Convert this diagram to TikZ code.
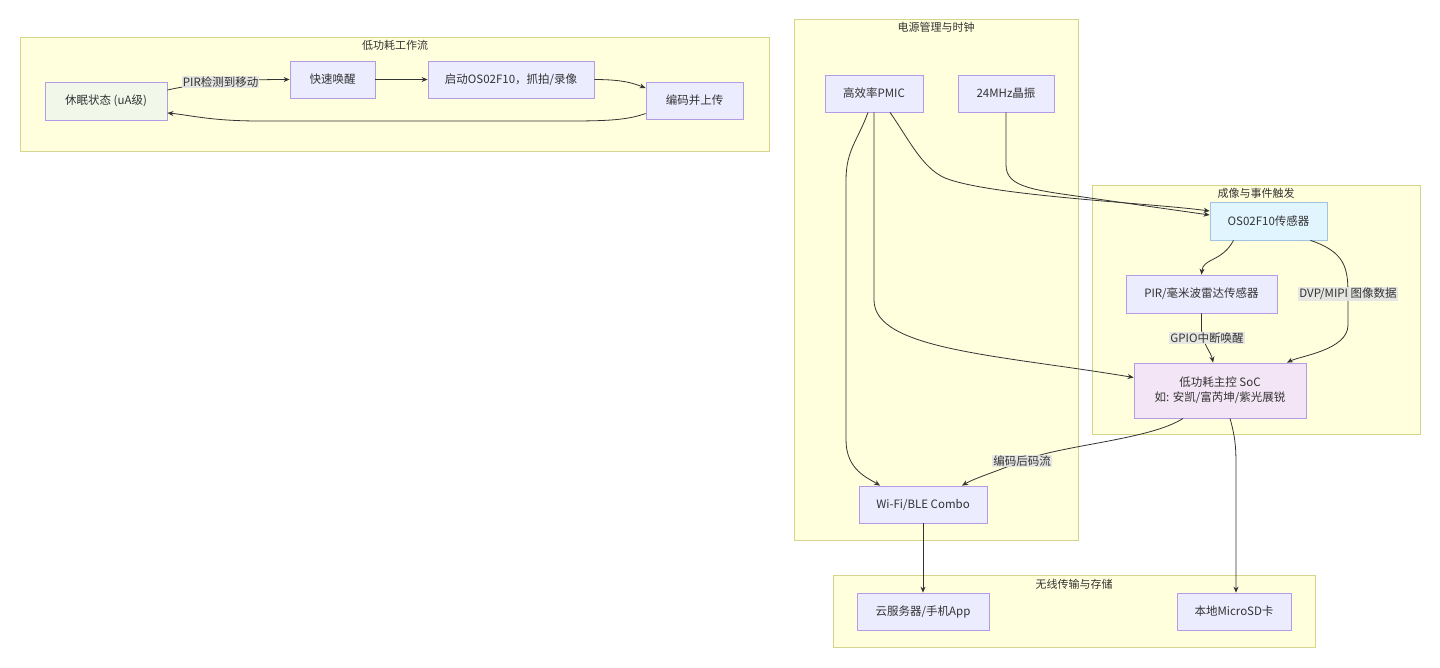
\documentclass[tikz,border=0pt]{standalone}
\usepackage{fontspec}
\setmainfont{Noto Sans CJK SC}
\usetikzlibrary{arrows.meta}
\definecolor{clfill}{HTML}{FFFFDE}
\definecolor{cldraw}{HTML}{D4D48A}
\definecolor{ndfill}{HTML}{ECECFF}
\definecolor{nddraw}{HTML}{9370DB}
\definecolor{edge}{HTML}{333333}
\definecolor{lblbg}{HTML}{E4E4E4}
\definecolor{txt}{HTML}{333333}
\definecolor{greenfill}{HTML}{F1F8E9}
\definecolor{bluefill}{HTML}{E1F5FE}
\definecolor{bluedraw}{HTML}{9FC3E0}
\definecolor{pinkfill}{HTML}{F3E5F5}
\tikzset{
  cluster/.style={draw=cldraw, fill=clfill, line width=0.8pt},
  cltitle/.style={text=txt, font=\fontsize{11}{13}\selectfont, inner sep=0pt},
  box/.style={draw=nddraw!70, fill=ndfill, line width=0.8pt, rectangle, text=txt,
    font=\fontsize{11.5}{15}\selectfont, align=center, inner sep=0pt},
  arr/.style={draw=edge, line width=0.8pt, -{Stealth[length=6pt,width=5pt]}},
  lbl/.style={fill=lblbg, fill opacity=0.9, text opacity=1, text=txt,
    font=\fontsize{11.5}{13}\selectfont, inner sep=1pt}
}
\begin{document}
\begin{tikzpicture}[x=1pt,y=-1pt]
\useasboundingbox (0,0) rectangle (1440,667);
% clusters
\draw[cluster] (20,37) rectangle (769,151);
\node[cltitle] (t1) at (395,45) {低功耗工作流};
\draw[cluster] (794,19) rectangle (1078,540);
\node[cltitle] (t2) at (936,27) {电源管理与时钟};
\draw[cluster] (1092,185) rectangle (1420,434);
\node[cltitle] (t3) at (1256,193) {成像与事件触发};
\draw[cluster] (833,575) rectangle (1315,647);
\node[cltitle] (t4) at (1074,584) {无线传输与存储};
% workflow nodes
\node[box, fill=greenfill, minimum width=122pt, minimum height=38pt] (sleep) at (106,101) {休眠状态 (uA级)};
\node[box, minimum width=85pt, minimum height=37pt] (wake) at (332.5,79.5) {快速唤醒};
\node[box, minimum width=166pt, minimum height=37pt] (start) at (511,79.5) {启动OS02F10，抓拍/录像};
\node[box, minimum width=97pt, minimum height=37pt] (enc) at (694.5,100.5) {编码并上传};
% power
\node[box, minimum width=98pt, minimum height=37pt] (pmic) at (874,93.5) {高效率PMIC};
\node[box, minimum width=96pt, minimum height=37pt] (xtal) at (1006,93.5) {24MHz晶振};
\node[box, minimum width=128pt, minimum height=37pt] (wifi) at (923,504.5) {Wi-Fi/BLE Combo};
% imaging
\node[box, fill=bluefill, draw=bluedraw, minimum width=117pt, minimum height=38pt] (os) at (1268.5,221) {OS02F10传感器};
\node[box, minimum width=151pt, minimum height=38pt] (pir) at (1201.5,294) {PIR/毫米波雷达传感器};
\node[box, fill=pinkfill, minimum width=172pt, minimum height=55pt] (soc) at (1220,390.5) {低功耗主控 SoC\\如: 安凯/富芮坤/紫光展锐};
% storage
\node[box, minimum width=132pt, minimum height=37pt] (cloud) at (923,611.5) {云服务器/手机App};
\node[box, minimum width=114pt, minimum height=37pt] (sd) at (1234,611.5) {本地MicroSD卡};
% workflow edges
\draw[arr] ([yshift=11pt]sleep.east) .. controls (200,83) and (230,79.5) .. (wake.west)
  node[lbl, pos=0.52] (l1) {PIR检测到移动};
\draw[arr] (wake.east) -- (start.west);
\draw[arr] (start.east) .. controls (625,79.5) and (635,84) .. ([yshift=12.5pt]enc.west);
\draw[arr] ([yshift=-13pt]enc.west) .. controls (625,121) and (600,121) .. (560,121)
  -- (260,121) .. controls (210,121) and (190,115) .. ([yshift=-12pt]sleep.east);
% power edges
\draw[arr] ([xshift=-6pt]pmic.south) .. controls (858,140) and (846,150) .. (846,180)
  -- (846,440) .. controls (846,470) and (868,478) .. ([xshift=-43pt]wifi.north);
\draw[arr] (pmic.south) -- (874,300) .. controls (874,350) and (1000,355) .. ([yshift=13pt]soc.west);
\draw[arr] ([xshift=16pt]pmic.south) .. controls (908,138) and (922,168) .. (945,178)
  .. controls (990,196) and (1150,203) .. ([yshift=10pt]os.west);
\draw[arr] (xtal.south) -- (1006,165) .. controls (1006,188) and (1035,190) .. (1090,198)
  -- ([yshift=6pt]os.west);
% imaging edges
\draw[arr] ([xshift=-35pt]os.south) .. controls (1222,262) and (1203,258) .. (pir.north);
\draw[arr] ([xshift=42pt]os.south) .. controls (1345,252) and (1348,268) .. (1348,294)
  node[lbl] (l2) {DVP/MIPI 图像数据}
  -- (1348,325) .. controls (1348,350) and (1300,356) .. ([xshift=67pt]soc.north);
\draw[arr] (pir.south) -- (1201.5,330) .. controls (1203,345) and (1211,352) .. ([xshift=-7pt]soc.north);
\node[lbl] (l3) at (1207,338) {GPIO中断唤醒};
\draw[arr] ([xshift=-37pt]soc.south) .. controls (1150,440) and (1060,445) .. (1022,461)
  node[lbl] (l4) {编码后码流}
  .. controls (995,472) and (975,478) .. ([xshift=39pt]wifi.north);
\draw[arr] ([xshift=10pt]soc.south) .. controls (1236,440) and (1236,450) .. (1236,470) -- ([xshift=2pt]sd.north);
\draw[arr] (wifi.south) -- (cloud.north);
\end{tikzpicture}
\end{document}
